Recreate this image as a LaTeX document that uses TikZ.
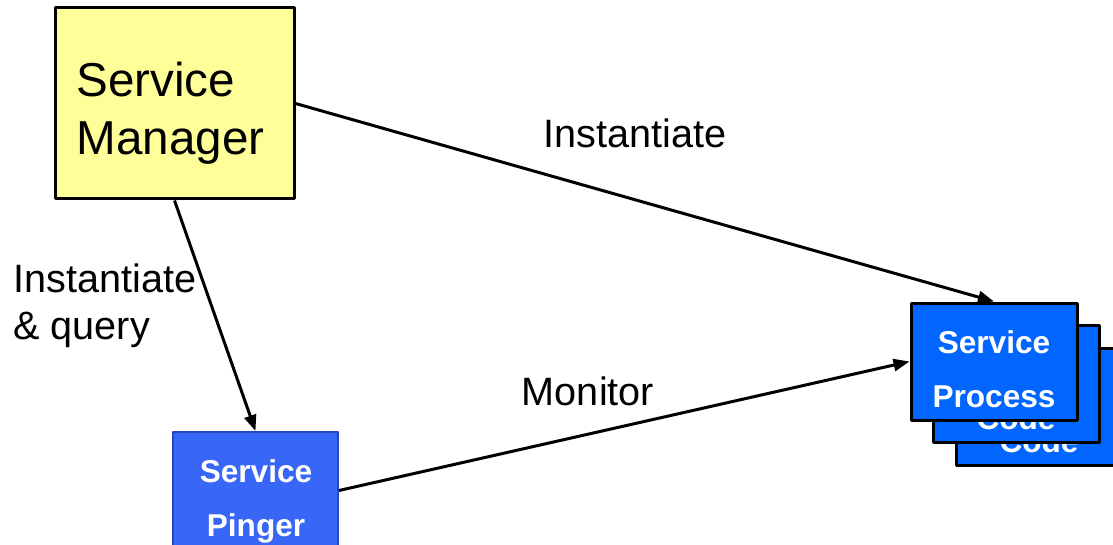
\documentclass[tikz,border=0pt]{standalone}
\usepackage{fontspec}
\setmainfont{Liberation Sans}
\usetikzlibrary{arrows.meta}
\definecolor{mgryellow}{RGB}{255,255,153}
\definecolor{procblue}{RGB}{0,102,255}
\definecolor{pingblue}{RGB}{56,102,246}
\definecolor{pingedge}{RGB}{40,70,190}
\begin{document}
\begin{tikzpicture}[x=0.5pt,y=-0.5pt,line join=round,>={Triangle[length=8pt,width=6pt]},line width=1.5pt]
	\tikzset{box/.style={rectangle,inner sep=0pt},
		procbox/.style={box,draw=black,fill=procblue,minimum width=83pt,minimum height=58.5pt},
		boxtext/.style={inner sep=0pt,text=white,font=\fontsize{15.8}{27}\selectfont\bfseries,align=center},
		lbl/.style={inner sep=0pt,font=\fontsize{19.8}{23.5}\selectfont,align=left}}
	\clip (0,0) rectangle (1113,545);
	\fill[white] (0,0) rectangle (1113,545);
	% manager
	\node[box,draw=black,fill=mgryellow,minimum width=119.5pt,minimum height=95.5pt] (mgr) at (174.5,103.5) {};
	\node[inner sep=0pt,anchor=west,align=left,font=\fontsize{23.8}{29}\selectfont] (mgrtext) at (75,113.5) {Service\\Manager};
	% pinger
	\node[box,draw=pingedge,line width=1pt,fill=pingblue,minimum width=82.5pt,minimum height=58.5pt] (ping) at (255.5,490.5) {};
	\node[boxtext] (pingtext) at (256,501.5) {Service\\Pinger};
	% process stack, back to front
	\foreach \n/\x/\y in {3/1039/406.5,2/1016/383.5}{
		\node[procbox] (proc\n) at (\x,\y) {};
		\node[boxtext,anchor=base] (code\n) at (\x,\y+46) {Code};
	}
	\node[procbox] (proc) at (994,361.5) {};
	\node[boxtext] (proctext) at (994,369.5) {Service\\Process};
	% connectors
	\draw[->] (mgr.east) -- (proc.north);
	\draw[->] (mgr.south) -- (ping.north);
	\draw[->] (ping.east) -- (proc.west);
	\node[lbl,anchor=base] (inst) at (635,148) {Instantiate};
	\node[lbl,anchor=north west] (instq) at (12,262) {Instantiate\\\& query};
	\node[lbl,anchor=base] (mon) at (588,405) {Monitor};
\end{tikzpicture}
\end{document}
